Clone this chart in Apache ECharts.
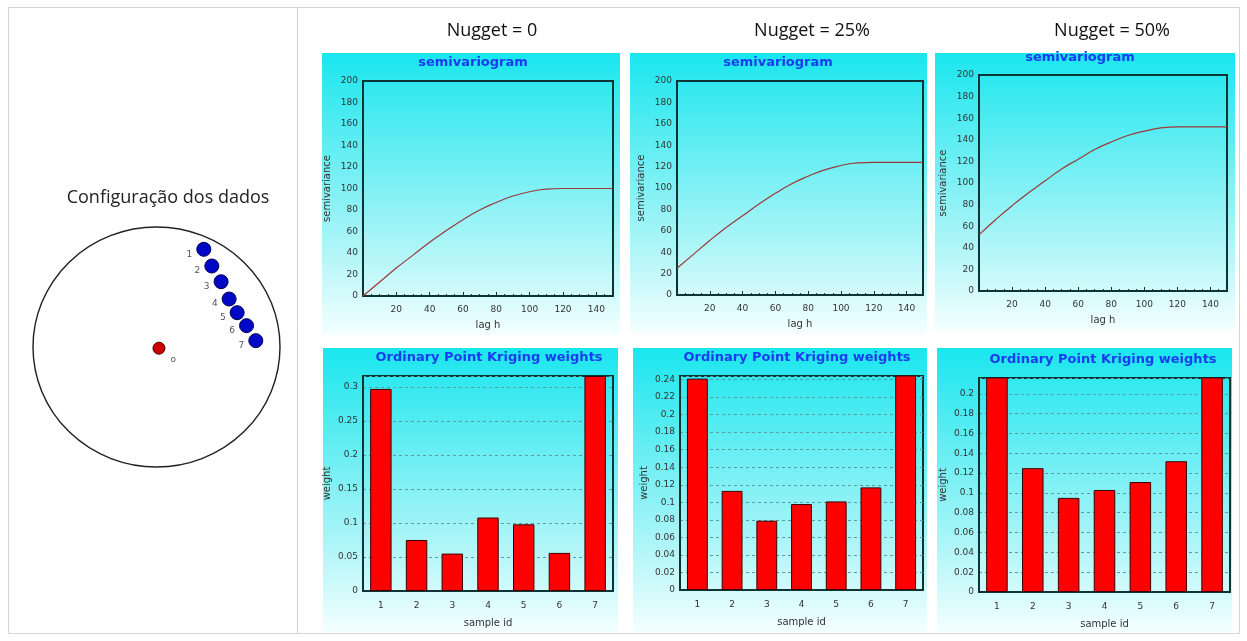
<!DOCTYPE html>
<html><head><meta charset="utf-8">
<script src="https://cdn.jsdelivr.net/npm/echarts@6/dist/echarts.min.js"></script>
<style>html,body{margin:0;padding:0;background:#fff}#c{width:1247px;height:641px}</style>
</head><body><div id="c"></div>
<script>
// ---------------- data ----------------
const panelTitles = ['Nugget = 0', 'Nugget = 25%', 'Nugget = 50%'];
const leftTitle = 'Configuração dos dados';
const semivarTitle = 'semivariogram';
const weightTitle = 'Ordinary Point Kriging weights';

const lagH = [0, 10, 20, 30, 40, 50, 60, 70, 80, 90, 100, 110, 120, 130, 140, 150];
const semivarNugget0  = [0, 13, 26, 38, 50, 61, 71, 80, 87, 93, 97, 99.5, 100, 100, 100, 100];
const semivarNugget25 = [25, 38, 51, 63, 74, 85, 95, 104, 111, 117, 121, 123.5, 124, 124, 124, 124];
const semivarNugget50 = [52, 66, 79, 91, 102, 113, 122, 131, 138, 144, 148, 151, 152, 152, 152, 152];

const sampleIds = ['1', '2', '3', '4', '5', '6', '7'];
const weightsNugget0  = [0.297, 0.075, 0.055, 0.108, 0.098, 0.056, 0.316];
const weightsNugget25 = [0.241, 0.113, 0.079, 0.098, 0.101, 0.117, 0.251];
const weightsNugget50 = [0.217, 0.125, 0.095, 0.103, 0.111, 0.132, 0.217];

const semivarTicks = { min: 0, max: 200, interval: 20 };
const lagTicks = { min: 0, max: 150, interval: 20 };
const weightAxes = [
  { min: 0, max: 0.316, interval: 0.05 },
  { min: 0, max: 0.244, interval: 0.02 },
  { min: 0, max: 0.216, interval: 0.02 }
];

// sample configuration (search ellipse of unit radius, target at centre)
const sampleX = [0.383, 0.448, 0.523, 0.588, 0.653, 0.729, 0.804];
const sampleY = [0.814, 0.675, 0.544, 0.400, 0.286, 0.178, 0.053];
const targetX = 0.02, targetY = -0.01, targetLabel = 'o';

// ---------------- layout ----------------
const topGrids = [
  { left: 363, top: 81, width: 250, height: 215 },
  { left: 677, top: 81, width: 246, height: 214 },
  { left: 979, top: 75, width: 248, height: 216 }
];
const botGrids = [
  { left: 363, top: 376, width: 250, height: 215 },
  { left: 680, top: 376, width: 243, height: 214 },
  { left: 979, top: 378, width: 251, height: 214 }
];
const panelBoxes = [
  [322, 53, 298, 282], [630, 53, 297, 280], [935, 53, 300, 277],
  [323, 348, 295, 284], [633, 348, 294, 284], [937, 348, 295, 284]
];
const semiTitlePos = [[473, 63], [778, 63], [1080, 58]];
const weightTitlePos = [[489, 358], [797, 358], [1103, 360]];
const nuggetTitlePos = [[492, 31], [812, 31], [1112, 31]];

const semivarSeries = [semivarNugget0, semivarNugget25, semivarNugget50];
const weightSeries = [weightsNugget0, weightsNugget25, weightsNugget50];

const frameColor = '#0b3535';
const tickFont = { fontFamily: 'DejaVu Sans', fontSize: 9, color: '#333' };
const nameFont = { fontFamily: 'DejaVu Sans', fontSize: 10, color: '#333' };

const grids = [], xAxes = [], yAxes = [], series = [], graphics = [];

function bg(box) {
  return {
    type: 'rect', z: -10, silent: true,
    shape: { x: box[0], y: box[1], width: box[2], height: box[3] },
    style: {
      fill: new echarts.graphic.LinearGradient(0, 0, 0, 1, [
        { offset: 0, color: '#1ae6ee' },
        { offset: 0.72, color: '#b4f6f8' },
        { offset: 1, color: '#f4ffff' }
      ])
    }
  };
}
function txt(x, y, text, font, fill) {
  return {
    type: 'text', x: x, y: y, z: 10, silent: true,
    style: { text: text, font: font, fill: fill, align: 'center', verticalAlign: 'middle', textAlign: 'center', textVerticalAlign: 'middle' }
  };
}

// frames
graphics.push({ type: 'rect', z: -20, silent: true, shape: { x: 8.5, y: 7.5, width: 1231, height: 626 }, style: { fill: 'none', stroke: '#d4d4d4', lineWidth: 1 } });
graphics.push({ type: 'line', z: -20, silent: true, shape: { x1: 297.5, y1: 7.5, x2: 297.5, y2: 633.5 }, style: { stroke: '#d4d4d4', lineWidth: 1 } });
panelBoxes.forEach(b => graphics.push(bg(b)));
graphics.push(txt(168, 198, leftTitle, '18px "Open Sans"', '#222'));
panelTitles.forEach((t, i) => graphics.push(txt(nuggetTitlePos[i][0], nuggetTitlePos[i][1], t, '18px "Open Sans"', '#111')));
semiTitlePos.forEach(p => graphics.push(txt(p[0], p[1], semivarTitle, 'bold 13px "DejaVu Sans"', '#1a3cf0')));
weightTitlePos.forEach(p => graphics.push(txt(p[0], p[1], weightTitle, 'bold 13px "DejaVu Sans"', '#1a3cf0')));

// semivariogram charts
for (let i = 0; i < 3; i++) {
  const gi = grids.length;
  grids.push(Object.assign({ show: true, borderColor: frameColor, borderWidth: 2, backgroundColor: 'transparent' }, topGrids[i]));
  xAxes.push({
    gridIndex: gi, type: 'value', min: lagTicks.min, max: lagTicks.max, interval: lagTicks.interval,
    name: 'lag h', nameLocation: 'middle', nameGap: 24, nameTextStyle: nameFont,
    axisLine: { show: true, lineStyle: { color: frameColor, width: 2 } },
    axisTick: { show: true, inside: true, length: 4, lineStyle: { color: frameColor } },
    minorTick: { show: true, splitNumber: 4, length: 2, lineStyle: { color: frameColor } },
    axisLabel: Object.assign({ showMinLabel: false, showMaxLabel: false, margin: 9 }, tickFont),
    splitLine: { show: false }
  });
  yAxes.push({
    gridIndex: gi, type: 'value', min: semivarTicks.min, max: semivarTicks.max, interval: semivarTicks.interval,
    name: 'semivariance', nameLocation: 'middle', nameGap: 31, nameRotate: 90, nameTextStyle: nameFont,
    axisLine: { show: true, lineStyle: { color: frameColor, width: 2 } },
    axisTick: { show: false },
    axisLabel: Object.assign({ margin: 5 }, tickFont),
    splitLine: { show: false }
  });
  series.push({
    type: 'line', xAxisIndex: gi, yAxisIndex: gi, showSymbol: false, smooth: 0.5,
    lineStyle: { color: '#9a3838', width: 1.2 }, silent: true,
    data: lagH.map((h, k) => [h, semivarSeries[i][k]])
  });
}

// weight charts
for (let i = 0; i < 3; i++) {
  const gi = grids.length;
  grids.push(Object.assign({ show: true, borderColor: frameColor, borderWidth: 2, backgroundColor: 'transparent' }, botGrids[i]));
  xAxes.push({
    gridIndex: gi, type: 'category', data: sampleIds,
    name: 'sample id', nameLocation: 'middle', nameGap: 27, nameTextStyle: nameFont,
    axisLine: { show: true, lineStyle: { color: frameColor, width: 2 } },
    axisTick: { show: false },
    axisLabel: Object.assign({ margin: 10 }, tickFont)
  });
  yAxes.push({
    gridIndex: gi, type: 'value', min: weightAxes[i].min, max: weightAxes[i].max, interval: weightAxes[i].interval,
    name: 'weight', nameLocation: 'middle', nameGap: 31, nameRotate: 90, nameTextStyle: nameFont,
    axisLine: { show: true, lineStyle: { color: frameColor, width: 2 } },
    axisTick: { show: false },
    axisLabel: Object.assign({ margin: 5, showMaxLabel: false }, tickFont),
    splitLine: { show: true, lineStyle: { color: '#5f9a9c', type: [3, 3], width: 1 } }
  });
  series.push({
    type: 'bar', xAxisIndex: gi, yAxisIndex: gi, barWidth: '60%', silent: true,
    itemStyle: { color: '#ff0000', borderColor: '#3a0000', borderWidth: 1 },
    data: weightSeries[i]
  });
}

// sample configuration
const lg = grids.length;
grids.push({ left: 33, top: 227, width: 247, height: 240, show: false });
xAxes.push({ gridIndex: lg, type: 'value', min: -1, max: 1, show: false });
yAxes.push({ gridIndex: lg, type: 'value', min: -1, max: 1, show: false });
series.push({
  type: 'scatter', xAxisIndex: lg, yAxisIndex: lg, silent: true, symbol: 'circle', symbolSize: [247, 240],
  itemStyle: { color: 'rgba(0,0,0,0)', borderColor: '#222', borderWidth: 1.4, opacity: 1 },
  data: [[0, 0]], z: 1
});
series.push({
  type: 'scatter', xAxisIndex: lg, yAxisIndex: lg, silent: true, symbolSize: 14,
  itemStyle: { color: '#0008c8', borderColor: '#000050', borderWidth: 1, opacity: 1 },
  label: { show: true, position: 'left', distance: 4, offset: [0, 5], formatter: p => p.data[2], fontFamily: 'DejaVu Sans', fontSize: 9, color: '#555' },
  data: sampleX.map((x, k) => [x, sampleY[k], sampleIds[k]]), z: 3
});
series.push({
  type: 'scatter', xAxisIndex: lg, yAxisIndex: lg, silent: true, symbolSize: 12,
  itemStyle: { color: '#cc0000', borderColor: '#500000', borderWidth: 1, opacity: 1 },
  label: { show: true, position: 'right', distance: 5, offset: [0, 11], formatter: targetLabel, fontFamily: 'DejaVu Sans', fontSize: 9, color: '#555' },
  data: [[targetX, targetY]], z: 3
});

const chart = echarts.init(document.getElementById('c'), null, { renderer: 'canvas' });
chart.setOption({
  animation: false,
  backgroundColor: '#ffffff',
  grid: grids, xAxis: xAxes, yAxis: yAxes, series: series,
  graphic: { elements: graphics }
});
</script></body></html>
